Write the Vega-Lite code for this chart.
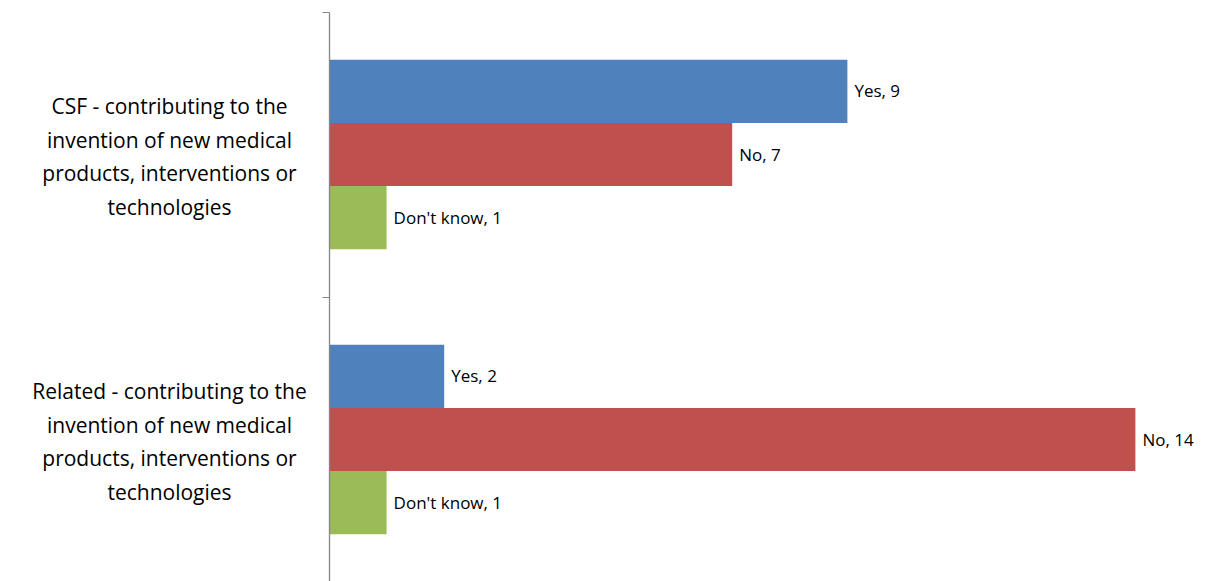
{
  "$schema": "https://vega.github.io/schema/vega-lite/v6.json",
  "width": 864,
  "height": 570,
  "autosize": {"type": "none"},
  "padding": {"left": 329, "top": 12, "right": 12, "bottom": 0},
  "background": "white",
  "config": {"view": {"stroke": null}, "font": "Open Sans"},
  "data": {
    "values": [
      {"group": "CSF - contributing to the|invention of new medical|products, interventions or|technologies", "answer": "Yes", "count": 9, "label": "Yes, 9"},
      {"group": "CSF - contributing to the|invention of new medical|products, interventions or|technologies", "answer": "No", "count": 7, "label": "No, 7"},
      {"group": "CSF - contributing to the|invention of new medical|products, interventions or|technologies", "answer": "Don't know", "count": 1, "label": "Don't know, 1"},
      {"group": "Related - contributing to the|invention of new medical|products, interventions or|technologies", "answer": "Yes", "count": 2, "label": "Yes, 2"},
      {"group": "Related - contributing to the|invention of new medical|products, interventions or|technologies", "answer": "No", "count": 14, "label": "No, 14"},
      {"group": "Related - contributing to the|invention of new medical|products, interventions or|technologies", "answer": "Don't know", "count": 1, "label": "Don't know, 1"}
    ]
  },
  "encoding": {
    "y": {
      "field": "group",
      "type": "nominal",
      "sort": null,
      "scale": {"paddingInner": 0, "paddingOuter": 0},
      "axis": {
        "title": null,
        "labelExpr": "split(datum.label, '|')",
        "labelAlign": "center",
        "labelBaseline": "middle",
        "labelFont": "Open Sans",
        "labelFontSize": 21,
        "labelLineHeight": 33.5,
        "labelOffset": -47,
        "labelColor": "#000000",
        "labelPadding": 153,
        "labelLimit": 400,
        "tickBand": "extent",
        "tickSize": 7,
        "tickColor": "#868686",
        "domainColor": "#868686",
        "domainWidth": 1.3,
        "zindex": 1
      }
    },
    "yOffset": {
      "field": "answer",
      "type": "nominal",
      "sort": ["Yes", "No", "Don't know"],
      "scale": {"paddingInner": 0, "paddingOuter": 0.754}
    },
    "x": {
      "field": "count",
      "type": "quantitative",
      "scale": {"domain": [0, 15], "nice": false},
      "axis": null
    }
  },
  "layer": [
    {
      "mark": {"type": "bar"},
      "encoding": {
        "color": {
          "field": "answer",
          "type": "nominal",
          "scale": {"domain": ["Yes", "No", "Don't know"], "range": ["#4F81BD", "#C0504D", "#9BBB59"]},
          "legend": null
        }
      }
    },
    {
      "mark": {"type": "text", "align": "left", "baseline": "middle", "dx": 7, "dy": 1, "fontSize": 17, "font": "Open Sans", "color": "#000000"},
      "encoding": {"text": {"field": "label", "type": "nominal"}}
    }
  ]
}
